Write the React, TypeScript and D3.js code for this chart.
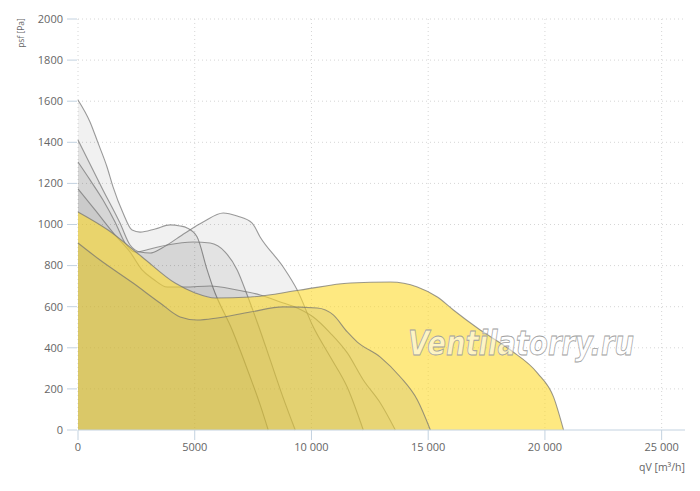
import { scaleLinear, area, line, curveMonotoneX } from "d3";

// fan curves: [qV m³/h, psf Pa]
const fanA: [number, number][] = [
  [0, 1606], [515, 1499], [858, 1397], [1244, 1280], [1501, 1183], [1930, 1056],
  [2316, 973], [2659, 963], [3302, 978], [3945, 998], [4374, 993], [4674, 983],
  [5103, 939], [5532, 779], [5789, 691], [6604, 487], [7375, 258], [7804, 122], [8147, 0],
];
const fanB: [number, number][] = [
  [0, 1411], [1070, 1168], [1800, 1007], [2230, 900], [2660, 866], [3090, 861],
  [3600, 886], [4590, 959], [5360, 1012], [6220, 1056], [6820, 1041], [7460, 1007],
  [7800, 939], [8790, 793], [9390, 681], [10080, 501], [10810, 355], [11530, 209], [12220, 0],
];
const fanC: [number, number][] = [
  [0, 1304], [515, 1217], [1072, 1119], [1587, 1012], [2015, 910], [2444, 866],
  [3087, 881], [3816, 900], [4931, 915], [5660, 910], [6304, 866], [6818, 779],
  [7247, 657], [7719, 511], [8233, 341], [8748, 170], [9305, 0],
];
const fanD: [number, number][] = [
  [0, 1173], [729, 1071], [1587, 949], [2230, 866], [2744, 779], [3216, 735],
  [3816, 696], [4588, 696], [5660, 701], [6818, 681], [7804, 657], [8662, 623],
  [9391, 594], [10078, 550], [10807, 472], [11536, 375], [12221, 243], [12950, 131], [13593, 0],
];
const fanE: [number, number][] = [
  [0, 1061], [1286, 973], [2744, 842], [4159, 715], [5017, 667], [5874, 642],
  [7375, 647], [9519, 681], [11663, 715], [13378, 720], [14536, 696], [15393, 647],
  [16080, 584], [17109, 496], [18524, 389], [19682, 277], [20368, 161], [20797, 0],
];
const fanF: [number, number][] = [
  [0, 910], [943, 827], [2358, 715], [3516, 618], [4374, 550], [5103, 535],
  [5960, 545], [7375, 574], [8790, 599], [10250, 594], [10934, 560], [11535, 477],
  [11964, 428], [12950, 355], [13808, 258], [14537, 146], [15094, 0],
];

const flowTicks = [0, 5000, 10000, 15000, 20000, 25000];
const flowLabels = ["0", "5000", "10 000", "15 000", "20 000", "25 000"];
const pressureTicks = [0, 200, 400, 600, 800, 1000, 1200, 1400, 1600, 1800, 2000];

const W = 700;
const H = 491;

const x = scaleLinear().domain([0, 26000]).range([78, 685]);
const y = scaleLinear().domain([0, 2000]).range([430, 19]);

const areaGen = area<[number, number]>()
  .x((d) => x(d[0]))
  .y0(y(0))
  .y1((d) => y(d[1]))
  .curve(curveMonotoneX);

const lineGen = line<[number, number]>()
  .x((d) => x(d[0]))
  .y((d) => y(d[1]))
  .curve(curveMonotoneX);

// grey fans first, the yellow ones drawn over them
const layers = [
  { data: fanA, fill: "#000", opacity: 0.055 },
  { data: fanB, fill: "#000", opacity: 0.055 },
  { data: fanC, fill: "#000", opacity: 0.055 },
  { data: fanD, fill: "#000", opacity: 0.055 },
  { data: fanE, fill: "rgb(254,218,45)", opacity: 0.6 },
  { data: fanF, fill: "rgb(118,119,78)", opacity: 0.125 },
];

const font = "'Open Sans', sans-serif";

export default function App() {
  return (
    <svg
      width={W}
      height={H}
      style={{ position: "absolute", left: 0, top: 0, background: "#fff" }}
    >
      {/* grid */}
      {pressureTicks.filter((t) => t > 0).map((t) => (
        <line key={"h" + t} x1={x(0)} x2={685} y1={y(t)} y2={y(t)}
          stroke="#d6d6d6" strokeDasharray="1,3" />
      ))}
      {flowTicks.map((t) => (
        <line key={"v" + t} x1={x(t)} x2={x(t)} y1={y(2000)} y2={y(0)}
          stroke="#d6d6d6" strokeDasharray="1,3" />
      ))}

      {/* fan areas */}
      {layers.map((l, i) => (
        <g key={i}>
          <path d={areaGen(l.data) || ""} fill={l.fill} fillOpacity={l.opacity} />
          <path d={lineGen(l.data) || ""} fill="none" stroke="#707070"
            strokeOpacity={0.7} strokeWidth={1.1} />
        </g>
      ))}

      {/* y axis */}
      {pressureTicks.map((t) => (
        <g key={"y" + t}>
          <line x1={67} x2={77} y1={y(t)} y2={y(t)} stroke="#c3d2e0" />
          <text x={63} y={y(t)} dy="0.35em" textAnchor="end" fontFamily={font}
            fontSize={11} fill="#666">{t}</text>
        </g>
      ))}
      <text transform="translate(24,33) rotate(-90)" textAnchor="middle"
        fontFamily={font} fontSize={8.5} fill="#666">psf [Pa]</text>

      {/* x axis */}
      <line x1={x(0)} x2={685} y1={y(0)} y2={y(0)} stroke="#c3d2e0" />
      {flowTicks.map((t, i) => (
        <g key={"x" + t}>
          <line x1={x(t)} x2={x(t)} y1={y(0)} y2={y(0) + 10} stroke="#c3d2e0" />
          <text x={x(t)} y={451} textAnchor="middle" fontFamily={font}
            fontSize={11} fill="#666">{flowLabels[i]}</text>
        </g>
      ))}
      <text x={685} y={471} textAnchor="end" fontFamily={font} fontSize={10.5}
        fill="#666">qV [m³/h]</text>

      {/* watermark */}
      <text x={408} y={355} fontFamily="'DejaVu Sans', sans-serif" fontStyle="italic"
        fontWeight="bold" fontSize={33} textLength={226} lengthAdjust="spacingAndGlyphs"
        fill="#fff" fillOpacity={0.55} stroke="#a0a0a0" strokeWidth={0.8}>
        Ventilatorry.ru
      </text>
    </svg>
  );
}
